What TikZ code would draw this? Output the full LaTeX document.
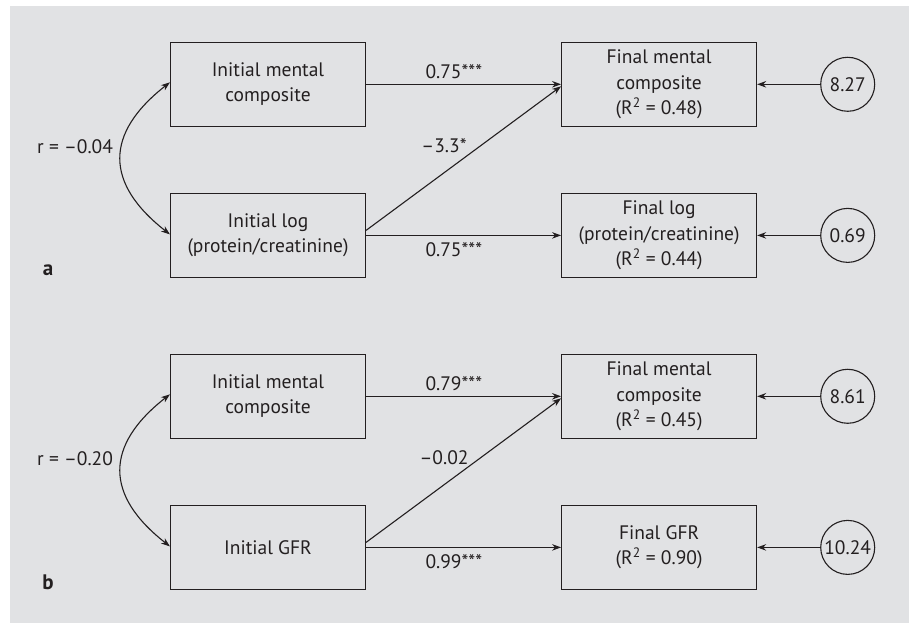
\documentclass[tikz,border=0pt]{standalone}
\usepackage{fontspec}
\setmainfont{PT Sans}
\usetikzlibrary{arrows.meta, positioning}

\definecolor{bggray}{HTML}{E1E2E4}
\definecolor{ink}{HTML}{231F20}

\begin{document}
\begin{tikzpicture}[>={Stealth[length=9pt,width=6.5pt]}, x=1pt, y=1pt,
    line width=1.1pt, color=ink,
    varbox/.style={draw, minimum width=195pt, minimum height=84pt,
        align=center, inner sep=0pt, font=\fontsize{19.5}{25.5}\selectfont},
    errcirc/.style={draw, circle, minimum size=54pt, inner sep=0pt,
        font=\fontsize{19.5}{25.5}\selectfont},
    coef/.style={font=\fontsize{19.5}{25.5}\selectfont},
    panel/.style={font=\fontsize{21}{24}\selectfont\bfseries}]

        \useasboundingbox (0,0) rectangle (909,623);
        \fill[bggray] (10,0) rectangle (909,617);

        % --- (a) log(protein/creatinine) model ---
        \begin{scope}[shift={(0,0)}]
            \node[panel] (laba) at (48,353) {a};

            % Initial and final variables
            \node[varbox] (ima) at (268,538.7) {Initial mental\\composite};
            \node[varbox, below=66pt of ima] (ila) {Initial log\\(protein/creatinine)};
            \node[varbox, right=195pt of ima] (fma) {Final mental\\composite\\(R\textsuperscript{2} = 0.48)};
            \node[varbox, right=195pt of ila] (fla) {Final log\\(protein/creatinine)\\(R\textsuperscript{2} = 0.44)};

            % Error terms
            \node[errcirc, right=63pt of fma] (ema) {8.27};
            \node[errcirc, right=63pt of fla] (ela) {0.69};

            % Correlation
            \draw[<->] ([yshift=2pt]ima.west) to[out=218, in=142, looseness=1.4]
                node[coef, left=4pt, yshift=12pt] {r = –0.04} ([yshift=1pt]ila.west);

            % Paths
            \draw[->] (ima) -- (fma) node[coef, pos=0.45, above=2pt] {0.75***};
            \draw[->] ([yshift=5pt]ila.east) -- ([yshift=-2pt]fma.west)
                node[coef, pos=0.4, above=16pt] {–3.3*};
            \draw[->] (ila) -- (fla) node[coef, pos=0.45, below=3pt] {0.75***};
            \draw[->] (ema) -- (fma);
            \draw[->] (ela) -- (fla);
        \end{scope}

        % --- (b) GFR model ---
        \begin{scope}[shift={(0,-312)}]
            \node[panel] (labb) at (48,353) {b};

            % Initial and final variables
            \node[varbox] (imb) at (268,538.7) {Initial mental\\composite};
            \node[varbox, below=66pt of imb] (igb) {Initial GFR};
            \node[varbox, right=195pt of imb] (fmb) {Final mental\\composite\\(R\textsuperscript{2} = 0.45)};
            \node[varbox, right=195pt of igb] (fgb) {Final GFR\\(R\textsuperscript{2} = 0.90)};

            % Error terms
            \node[errcirc, right=63pt of fmb] (emb) {8.61};
            \node[errcirc, right=63pt of fgb] (egb) {10.24};

            % Correlation
            \draw[<->] ([yshift=2pt]imb.west) to[out=218, in=142, looseness=1.4]
                node[coef, left=4pt, yshift=12pt] {r = –0.20} ([yshift=1pt]igb.west);

            % Paths
            \draw[->] (imb) -- (fmb) node[coef, pos=0.45, above=2pt] {0.79***};
            \draw[->] ([yshift=5pt]igb.east) -- ([yshift=-2pt]fmb.west)
                node[coef, pos=0.4, above=16pt] {–0.02};
            \draw[->] (igb) -- (fgb) node[coef, pos=0.45, below=3pt] {0.99***};
            \draw[->] (emb) -- (fmb);
            \draw[->] (egb) -- (fgb);
        \end{scope}

    \end{tikzpicture}
\end{document}
